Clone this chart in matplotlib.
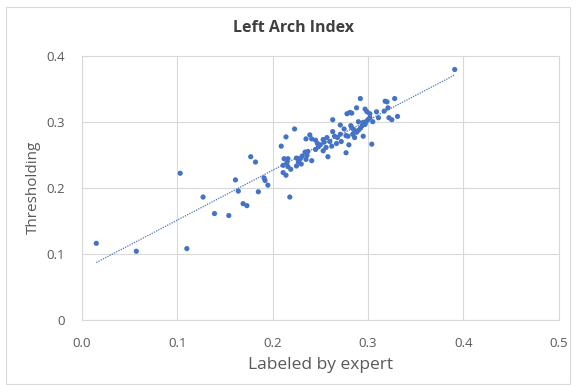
import numpy as np
import matplotlib
matplotlib.use("Agg")
import matplotlib.pyplot as plt
from matplotlib.patches import Rectangle

# Data (Labeled by expert vs Thresholding)
expert = [
    0.015, 0.057, 0.103, 0.110, 0.127, 0.139, 0.154, 0.161, 0.164, 0.169,
    0.173, 0.177, 0.182, 0.185, 0.191, 0.192, 0.195, 0.209, 0.214, 0.223,
    0.212, 0.216, 0.211, 0.216, 0.215, 0.211, 0.214, 0.218, 0.225, 0.227,
    0.229, 0.231, 0.234, 0.237, 0.235, 0.239, 0.241, 0.235, 0.236, 0.241,
    0.245, 0.247, 0.248, 0.253, 0.254, 0.257, 0.253, 0.256, 0.258, 0.263,
    0.263, 0.262, 0.268, 0.271, 0.267, 0.271, 0.275, 0.277, 0.279, 0.278,
    0.281, 0.283, 0.288, 0.292, 0.280, 0.277, 0.282, 0.283, 0.285, 0.284,
    0.286, 0.288, 0.290, 0.292, 0.294, 0.295, 0.297, 0.298, 0.295, 0.297,
    0.299, 0.302, 0.302, 0.304, 0.309, 0.317, 0.311, 0.322, 0.325, 0.318,
    0.320, 0.328, 0.321, 0.331, 0.391, 0.245, 0.250, 0.260, 0.265, 0.272,
    0.290, 0.300, 0.305, 0.225, 0.230, 0.219,
]
thresholding = [
    0.116, 0.104, 0.222, 0.108, 0.186, 0.161, 0.158, 0.212, 0.195, 0.176,
    0.173, 0.247, 0.239, 0.194, 0.215, 0.211, 0.204, 0.263, 0.277, 0.289,
    0.244, 0.244, 0.234, 0.232, 0.238, 0.223, 0.219, 0.186, 0.233, 0.239,
    0.244, 0.248, 0.254, 0.255, 0.243, 0.280, 0.274, 0.274, 0.249, 0.241,
    0.272, 0.267, 0.262, 0.273, 0.269, 0.276, 0.256, 0.261, 0.247, 0.303,
    0.285, 0.263, 0.276, 0.281, 0.267, 0.295, 0.289, 0.279, 0.278, 0.312,
    0.314, 0.313, 0.321, 0.335, 0.265, 0.253, 0.294, 0.291, 0.288, 0.281,
    0.276, 0.284, 0.287, 0.290, 0.294, 0.299, 0.296, 0.300, 0.278, 0.319,
    0.315, 0.306, 0.312, 0.266, 0.315, 0.316, 0.306, 0.306, 0.303, 0.331,
    0.330, 0.335, 0.321, 0.308, 0.379, 0.258, 0.265, 0.270, 0.278, 0.270,
    0.300, 0.303, 0.300, 0.245, 0.236, 0.228,
]
x_ticks = [0.0, 0.1, 0.2, 0.3, 0.4, 0.5]
x_tick_labels = ["0.0", "0.1", "0.2", "0.3", "0.4", "0.5"]
y_ticks = [0.0, 0.1, 0.2, 0.3, 0.4]
y_tick_labels = ["0", "0.1", "0.2", "0.3", "0.4"]

plt.rcParams['font.family'] = ['Open Sans', 'DejaVu Sans']

blue = "#4472C4"
grid_c = "#D9D9D9"
text_c = "#595959"

fig = plt.figure(figsize=(5.76, 3.85), dpi=100)
fig.patch.set_facecolor("white")
fig.patches.append(Rectangle((6/576, 0.002), 564/576, 1 - 7/385 - 0.002,
                             transform=fig.transFigure, fill=False,
                             edgecolor=grid_c, linewidth=0.8))

ax = fig.add_axes([82/576, 1 - 320/385, (558.6 - 82)/576, (320 - 55.6)/385])

x = np.array(expert)
y = np.array(thresholding)
ax.scatter(x, y, s=14, color=blue, edgecolors="none", zorder=3)

# Linear trendline
m, b = np.polyfit(x, y, 1)
xl = np.array([x.min(), x.max()])
ax.plot(xl, m * xl + b, color=blue, linestyle=(0, (1, 1)), linewidth=0.9, zorder=2)

ax.set_xlim(0, 0.5)
ax.set_ylim(0, 0.4)
ax.set_xticks(x_ticks)
ax.set_xticklabels(x_tick_labels)
ax.set_yticks(y_ticks)
ax.set_yticklabels(y_tick_labels)
ax.grid(True, color=grid_c, linewidth=0.8)
ax.set_axisbelow(True)
for s in ax.spines.values():
    s.set_color(grid_c)
    s.set_linewidth(0.8)
ax.tick_params(length=0, colors=text_c, labelsize=9.5)
ax.tick_params(axis='x', pad=12)
ax.tick_params(axis='y', pad=12)

fig.text(293.5/576, 1 - 28.5/385, "Left Arch Index", fontsize=11.5,
         fontweight="bold", color="#404040", ha="center", va="center")
ax.set_xlabel("Labeled by expert", fontsize=12.5, color=text_c, labelpad=5)
ax.set_ylabel("Thresholding", fontsize=11, color=text_c, labelpad=4)

fig.savefig("out.png", dpi=100)
